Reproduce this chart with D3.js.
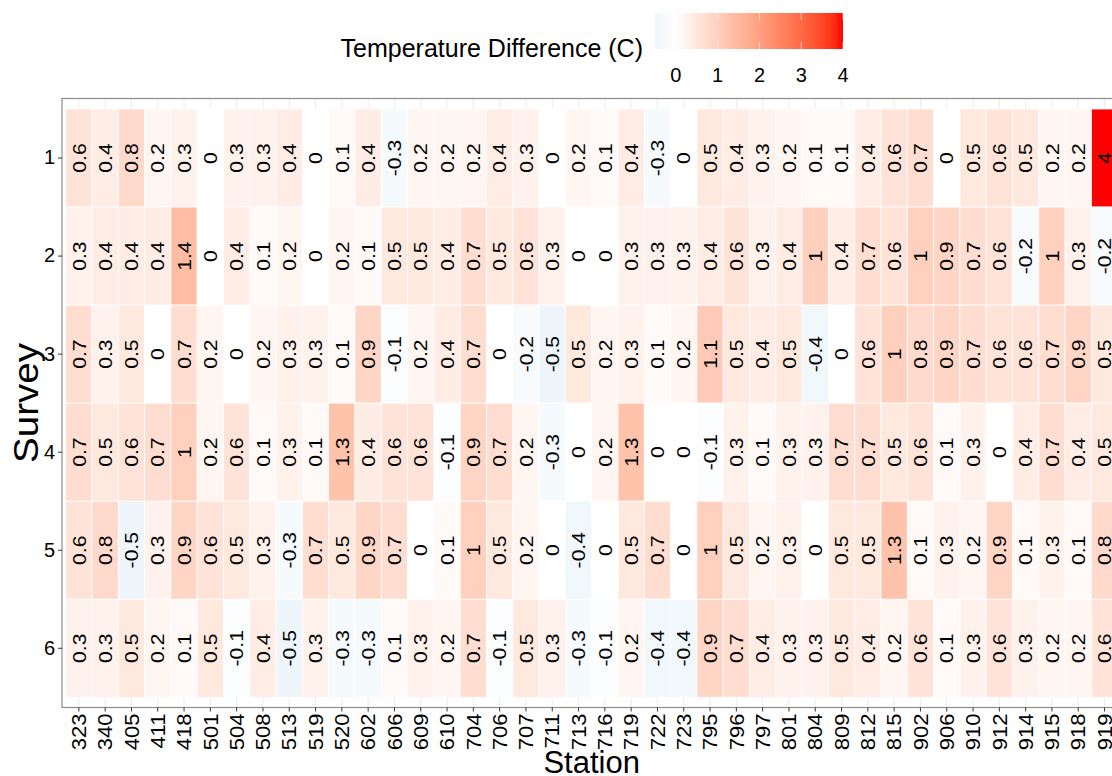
<!DOCTYPE html>
<html>
<head>
<meta charset="utf-8">
<script src="https://cdn.jsdelivr.net/npm/d3@7/dist/d3.min.js"></script>
<style>
  body { margin: 0; background: #fff; }
  text { font-family: "Liberation Sans", Arial, sans-serif; fill: #000; }
</style>
</head>
<body>
<div class="heatmap"></div>
<script>
// stations along the x axis
var stations = ["323", "340", "405", "411", "418", "501", "504", "508", "513", "519",
    "520", "602", "606", "609", "610", "704", "706", "707", "711", "713",
    "716", "719", "722", "723", "795", "796", "797", "801", "804", "809",
    "812", "815", "902", "906", "910", "912", "914", "915", "918", "919"];

var surveys = ["1", "2", "3", "4", "5", "6"];

// temperature difference per survey, one value per station
var survey1 = [0.6, 0.4, 0.8, 0.2, 0.3, 0, 0.3, 0.3, 0.4, 0, 0.1, 0.4, -0.3, 0.2, 0.2, 0.2, 0.4, 0.3, 0, 0.2,
    0.1, 0.4, -0.3, 0, 0.5, 0.4, 0.3, 0.2, 0.1, 0.1, 0.4, 0.6, 0.7, 0, 0.5, 0.6, 0.5, 0.2, 0.2, 4];
var survey2 = [0.3, 0.4, 0.4, 0.4, 1.4, 0, 0.4, 0.1, 0.2, 0, 0.2, 0.1, 0.5, 0.5, 0.4, 0.7, 0.5, 0.6, 0.3, 0,
    0, 0.3, 0.3, 0.3, 0.4, 0.6, 0.3, 0.4, 1, 0.4, 0.7, 0.6, 1, 0.9, 0.7, 0.6, -0.2, 1, 0.3, -0.2];
var survey3 = [0.7, 0.3, 0.5, 0, 0.7, 0.2, 0, 0.2, 0.3, 0.3, 0.1, 0.9, -0.1, 0.2, 0.4, 0.7, 0, -0.2, -0.5, 0.5,
    0.2, 0.3, 0.1, 0.2, 1.1, 0.5, 0.4, 0.5, -0.4, 0, 0.6, 1, 0.8, 0.9, 0.7, 0.6, 0.6, 0.7, 0.9, 0.5];
var survey4 = [0.7, 0.5, 0.6, 0.7, 1, 0.2, 0.6, 0.1, 0.3, 0.1, 1.3, 0.4, 0.6, 0.6, -0.1, 0.9, 0.7, 0.2, -0.3, 0,
    0.2, 1.3, 0, 0, -0.1, 0.3, 0.1, 0.3, 0.3, 0.7, 0.7, 0.5, 0.6, 0.1, 0.3, 0, 0.4, 0.7, 0.4, 0.5];
var survey5 = [0.6, 0.8, -0.5, 0.3, 0.9, 0.6, 0.5, 0.3, -0.3, 0.7, 0.5, 0.9, 0.7, 0, 0.1, 1, 0.5, 0.2, 0, -0.4,
    0, 0.5, 0.7, 0, 1, 0.5, 0.2, 0.3, 0, 0.5, 0.5, 1.3, 0.1, 0.3, 0.2, 0.9, 0.1, 0.3, 0.1, 0.8];
var survey6 = [0.3, 0.3, 0.5, 0.2, 0.1, 0.5, -0.1, 0.4, -0.5, 0.3, -0.3, -0.3, 0.1, 0.3, 0.2, 0.7, -0.1, 0.5, 0.3, -0.3,
    -0.1, 0.2, -0.4, -0.4, 0.9, 0.7, 0.4, 0.3, 0.3, 0.5, 0.4, 0.2, 0.6, 0.1, 0.3, 0.6, 0.3, 0.2, 0.2, 0.6];

var legendTicks = [0, 1, 2, 3, 4];

// flatten into one cell list
var rows = [survey1, survey2, survey3, survey4, survey5, survey6];
var cells = [];
rows.forEach(function (vals, i) {
    vals.forEach(function (v, j) {
        cells.push({ survey: surveys[i], station: stations[j], value: v });
    });
});

var width = 1112, height = 776;

// panel box
var panel = { left: 62, top: 98.5, right: 1121.4, bottom: 707.5 };

// vertical text in the reference is a bit stretched along its length
var stretch = 1.1;

var svg = d3.select(".heatmap").append("svg")
    .attr("width", width)
    .attr("height", height);

var x = d3.scaleBand()
    .domain(stations)
    .range([65.7, 65.7 + 40 * 26.3]);

var y = d3.scaleBand()
    .domain(surveys)
    .range([109, 697.3]);

// white in the middle, light blue for negative, red at the top
var color = d3.scaleLinear()
    .domain([-0.5, 0, 4])
    .range(["#eef6fb", "#ffffff", "#ff0000"])
    .interpolate(d3.interpolateLab);

// grid lines show only in the panel padding
var grid = svg.append("g");
grid.selectAll("line.vx")
    .data(stations)
    .enter().append("line")
    .attr("x1", function (d) { return x(d) + x.bandwidth() / 2; })
    .attr("x2", function (d) { return x(d) + x.bandwidth() / 2; })
    .attr("y1", panel.top)
    .attr("y2", panel.bottom)
    .attr("stroke", "#ebebeb")
    .attr("stroke-width", 1);
grid.selectAll("line.hy")
    .data(surveys)
    .enter().append("line")
    .attr("y1", function (d) { return y(d) + y.bandwidth() / 2; })
    .attr("y2", function (d) { return y(d) + y.bandwidth() / 2; })
    .attr("x1", panel.left)
    .attr("x2", panel.right)
    .attr("stroke", "#ebebeb")
    .attr("stroke-width", 1);

// tiles
svg.append("g").selectAll("rect")
    .data(cells)
    .enter().append("rect")
    .attr("x", function (d) { return x(d.station); })
    .attr("y", function (d) { return y(d.survey); })
    .attr("width", x.bandwidth())
    .attr("height", y.bandwidth())
    .attr("fill", function (d) { return color(d.value); })
    .attr("stroke", "#ffffff")
    .attr("stroke-width", 0.8);

// values written in each tile, rotated
svg.append("g").selectAll("text")
    .data(cells)
    .enter().append("text")
    .attr("transform", function (d) {
        return "translate(" + (x(d.station) + x.bandwidth() / 2) + "," + (y(d.survey) + y.bandwidth() / 2) +
            ") rotate(-90) scale(" + (stretch + 0.04) + ",1)";
    })
    .attr("text-anchor", "middle")
    .attr("dy", ".36em")
    .style("font-size", "18.5px")
    .text(function (d) { return d.value; });

// panel border
svg.append("rect")
    .attr("x", panel.left)
    .attr("y", panel.top)
    .attr("width", panel.right - panel.left)
    .attr("height", panel.bottom - panel.top)
    .attr("fill", "none")
    .attr("stroke", "#8c8c8c")
    .attr("stroke-width", 1.2);

// x axis
var xAxis = svg.append("g")
    .attr("transform", "translate(0," + panel.bottom + ")")
    .call(d3.axisBottom(x).tickSize(4).tickPadding(4));
xAxis.select(".domain").remove();
xAxis.selectAll(".tick line").attr("stroke", "#333");
xAxis.selectAll(".tick text")
    .attr("transform", "rotate(-90) scale(" + stretch + ",1)")
    .attr("text-anchor", "end")
    .attr("x", -5.5)
    .attr("y", 0)
    .attr("dy", ".36em")
    .style("font-size", "20px")
    .style("font-family", "'Liberation Sans', Arial, sans-serif")
    .attr("fill", "#000");

// y axis
var yAxis = svg.append("g")
    .attr("transform", "translate(" + panel.left + ",0)")
    .call(d3.axisLeft(y).tickSize(4).tickPadding(3));
yAxis.select(".domain").remove();
yAxis.selectAll(".tick line").attr("stroke", "#333");
yAxis.selectAll(".tick text")
    .style("font-size", "20px")
    .style("font-family", "'Liberation Sans', Arial, sans-serif")
    .attr("fill", "#000");

// axis titles
svg.append("text")
    .attr("x", (panel.left + panel.right) / 2)
    .attr("y", 773)
    .attr("text-anchor", "middle")
    .style("font-size", "31px")
    .text("Station");

svg.append("text")
    .attr("transform", "translate(38," + ((panel.top + panel.bottom) / 2) + ") rotate(-90) scale(" + stretch + ",1)")
    .attr("text-anchor", "middle")
    .style("font-size", "35px")
    .text("Survey");

// colour bar legend
var barX = 655, barW = 188, barY = 13, barH = 36;
var lx = d3.scaleLinear().domain([-0.5, 4]).range([barX, barX + barW]);

var defs = svg.append("defs");
var grad = defs.append("linearGradient").attr("id", "tempgrad");
d3.range(0, 1.0001, 0.05).forEach(function (t) {
    var v = -0.5 + t * 4.5;
    grad.append("stop")
        .attr("offset", (t * 100) + "%")
        .attr("stop-color", color(v));
});

var legend = svg.append("g");
legend.append("rect")
    .attr("x", barX)
    .attr("y", barY)
    .attr("width", barW)
    .attr("height", barH)
    .attr("fill", "url(#tempgrad)");

legend.selectAll("line.tk")
    .data(legendTicks)
    .enter().append("line")
    .attr("x1", function (d) { return lx(d); })
    .attr("x2", function (d) { return lx(d); })
    .attr("y1", barY)
    .attr("y2", barY + barH / 5)
    .attr("stroke", "#fff")
    .attr("stroke-opacity", 0.6);
legend.selectAll("line.bk")
    .data(legendTicks)
    .enter().append("line")
    .attr("x1", function (d) { return lx(d); })
    .attr("x2", function (d) { return lx(d); })
    .attr("y1", barY + barH * 4 / 5)
    .attr("y2", barY + barH)
    .attr("stroke", "#fff")
    .attr("stroke-opacity", 0.6);

legend.selectAll("text.lab")
    .data(legendTicks)
    .enter().append("text")
    .attr("x", function (d) { return lx(d); })
    .attr("y", 82)
    .attr("text-anchor", "middle")
    .style("font-size", "20px")
    .text(function (d) { return d; });

legend.append("text")
    .attr("x", 643)
    .attr("y", 56.5)
    .attr("text-anchor", "end")
    .style("font-size", "25px")
    .text("Temperature Difference (C)");
</script>
</body>
</html>
